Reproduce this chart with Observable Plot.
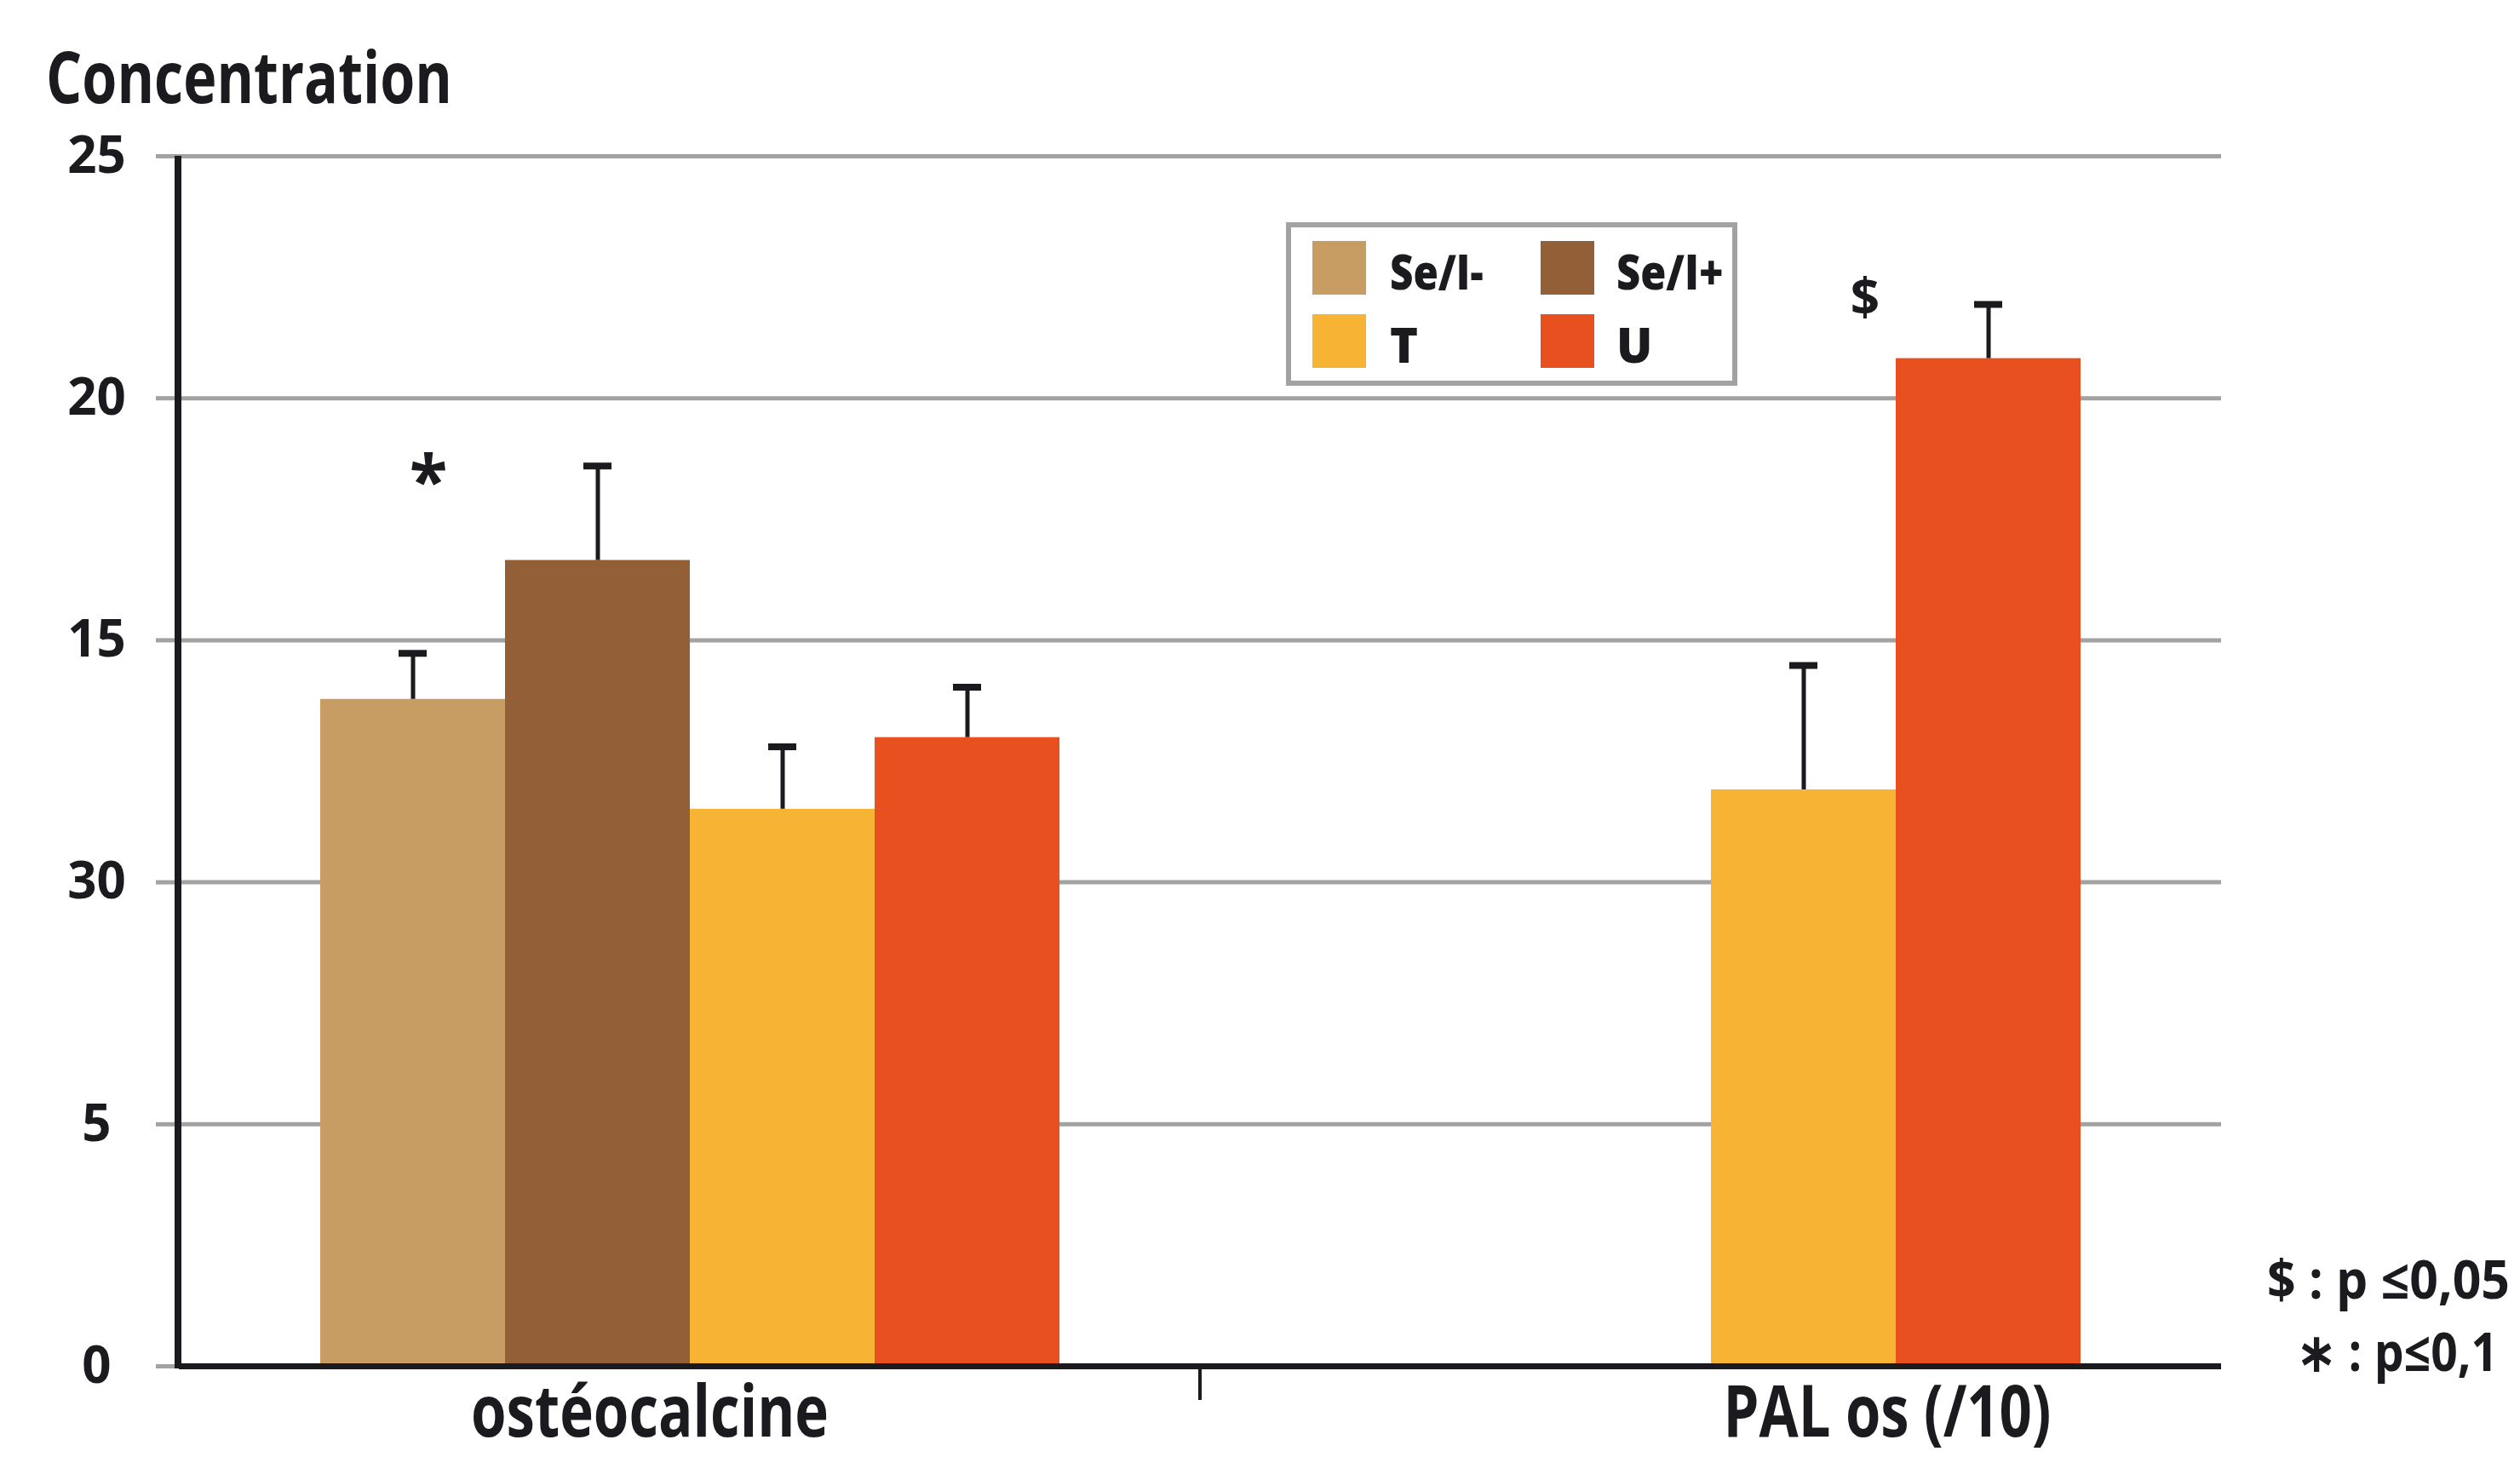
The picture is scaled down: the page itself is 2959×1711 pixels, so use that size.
<!DOCTYPE html>
<html>
<head>
<meta charset="utf-8">
<script src="https://cdn.jsdelivr.net/npm/d3@7"></script>
<script src="https://cdn.jsdelivr.net/npm/@observablehq/plot@0.6"></script>
<style>
  html, body { margin: 0; padding: 0; background: #fff; }
  #wrap { position: relative; width: 2959px; height: 1711px; overflow: hidden; font-family: "Open Sans", sans-serif; color: #1b1a1e; }
  #titlebar { position: relative; height: 150px; }
  .t { position: absolute; white-space: nowrap; font-weight: 700; line-height: 1; transform-origin: 0 0; }
  .sw { position: absolute; }
  #legbox { position: absolute; border: 6px solid #a2a2a2; box-sizing: border-box; background: #fff; }
  #chart svg { display: block; overflow: visible; }
</style>
</head>
<body>
<div id="wrap">
  <div id="titlebar"></div>
  <div id="chart"></div>
</div>
<script>
// ---- data ----
const groups = ["ostéocalcine", "PAL os (/10)"];
const series = ["Se/I-", "Se/I+", "T", "U"];
const colors = ["#c89d63", "#925f37", "#f7b334", "#e8511f"];
const osteoMeans = [13.78, 16.65, 11.51, 12.99];
const osteoErrTops = [14.73, 18.60, 12.80, 14.03];
const palSeries = ["T", "U"];
const palMeans = [11.91, 20.82];
const palErrTops = [14.48, 21.94];
const yTicks = [0, 5, 10, 15, 20, 25];
const yTickLabels = ["0", "5", "30", "15", "20", "25"];
const titleText = "Concentration";
const signifText = ["$ : p \u22640,05", "\u2217 : p\u22640,1"];
const starMark = {group: "ostéocalcine", series: "Se/I-", y: 18.55, text: "*"};
const dollarMark = {group: "PAL os (/10)", series: "T", y: 22.05, text: "$"};

const rows = [
  ...series.map((s, i) => ({group: groups[0], series: s, mean: osteoMeans[i], err: osteoErrTops[i]})),
  ...palSeries.map((s, i) => ({group: groups[1], series: s, mean: palMeans[i], err: palErrTops[i]}))
];

const ink = "#1b1a1e";
const grid = "#a2a2a2";

const plot = Plot.plot({
  width: 2959,
  height: 1561,
  marginTop: 33,
  marginBottom: 107,
  marginLeft: 209,
  marginRight: 351,
  style: {fontFamily: "'Open Sans', sans-serif", color: ink, background: "transparent", overflow: "visible"},
  fx: {domain: groups, padding: 0, axis: null},
  x: {domain: series, paddingInner: 0, paddingOuter: 0.76, axis: null},
  y: {domain: [0, 25], axis: null},
  color: {domain: series, range: colors},
  marks: [
    Plot.gridY(yTicks, {stroke: grid, strokeOpacity: 1, strokeWidth: 5}),
    Plot.axisY(yTicks, {
      tickSize: 27, stroke: grid, strokeWidth: 5, tickPadding: 70, textAnchor: "middle",
      fontSize: 60, fontWeight: 700, fill: ink, label: null,
      tickFormat: d => yTickLabels[yTicks.indexOf(d)]
    }),
    Plot.barY(rows, {fx: "group", x: "series", y: "mean", fill: "series"}),
    Plot.ruleX(rows, {fx: "group", x: "series", y1: "mean", y2: "err", stroke: ink, strokeWidth: 5}),
    Plot.tickY(rows, {fx: "group", x: "series", y: "err", stroke: ink, strokeWidth: 8, insetLeft: 92, insetRight: 92}),
    Plot.ruleY([0], {stroke: ink, strokeWidth: 7}),
    Plot.text([starMark], {fx: "group", x: "series", y: "y", text: "text", fontSize: 82, fontWeight: 700, fill: ink, dx: 18, dy: 18}),
    Plot.text([dollarMark], {fx: "group", x: "series", y: "y", text: "text", fontSize: 60, fontWeight: 700, fill: ink, dx: 72}),
    Plot.text([groups[0]], {fx: d => d, text: d => d, frameAnchor: "bottom", lineAnchor: "bottom", fontSize: 84, fontWeight: 700, fill: ink, dy: 82, dx: -47, className: "xlab"}),
    Plot.text([groups[1]], {fx: d => d, text: d => d, frameAnchor: "bottom", lineAnchor: "bottom", fontSize: 84, fontWeight: 700, fill: ink, dy: 82, dx: 207, className: "xlab"})
  ]
});

document.getElementById("chart").appendChild(plot);

// axis frame lines drawn from the plot's own scales
const svg = d3.select(plot);
const ys = plot.scale("y");
const fxs = plot.scale("fx");
const frameLeft = 209;
svg.append("line")
  .attr("x1", frameLeft).attr("x2", frameLeft)
  .attr("y1", ys.apply(25)).attr("y2", ys.apply(0) + 3)
  .attr("stroke", ink).attr("stroke-width", 8);
const boundary = fxs.apply(groups[1]);
svg.append("line")
  .attr("x1", boundary).attr("x2", boundary)
  .attr("y1", ys.apply(0)).attr("y2", ys.apply(0) + 40)
  .attr("stroke", ink).attr("stroke-width", 4);

// compress x labels to match the condensed look
const xlabTargets = {"ostéocalcine": 420, "PAL os (/10)": 385};
svg.selectAll(".xlab text").each(function() {
  const t = this.textContent;
  if (xlabTargets[t]) d3.select(this).attr("textLength", xlabTargets[t]).attr("lengthAdjust", "spacingAndGlyphs");
});

// ---- HTML text helpers (title, legend, notes) ----
const wrap = document.getElementById("wrap");
function addText(txt, left, baseline, size, width) {
  const el = document.createElement("div");
  el.className = "t";
  el.textContent = txt;
  el.style.fontSize = size + "px";
  el.style.left = left + "px";
  el.style.top = (baseline - 0.888 * size) + "px";
  wrap.appendChild(el);
  if (width) {
    const w = el.getBoundingClientRect().width;
    el.style.transform = `scaleX(${width / w})`;
  }
  return el;
}

addText(titleText, 54, 122, 84, 477);

// legend
const leg = document.createElement("div");
leg.id = "legbox";
Object.assign(leg.style, {left: "1510px", top: "261px", width: "530px", height: "192px"});
wrap.appendChild(leg);
const colorScale = plot.scale("color");
const legPos = [
  {s: "Se/I-", sx: 1541, sy: 283, tx: 1632, tb: 340, w: 105},
  {s: "Se/I+", sx: 1809, sy: 283, tx: 1898, tb: 340, w: 120},
  {s: "T", sx: 1541, sy: 369, tx: 1632, tb: 426, w: 0},
  {s: "U", sx: 1809, sy: 369, tx: 1898, tb: 426, w: 0}
];
legPos.forEach(p => {
  const sw = document.createElement("div");
  sw.className = "sw";
  Object.assign(sw.style, {left: p.sx + "px", top: p.sy + "px", width: "63px", height: "63px", background: colorScale.apply(p.s)});
  wrap.appendChild(sw);
  const el = addText(p.s, p.tx, p.tb, 56, p.w || null);
  el.style.fontWeight = 800;
});

// significance notes
addText(signifText[0], 2662, 1525, 62, 285);
addText(signifText[1], 2697, 1610, 62, 236);
</script>
</body>
</html>
